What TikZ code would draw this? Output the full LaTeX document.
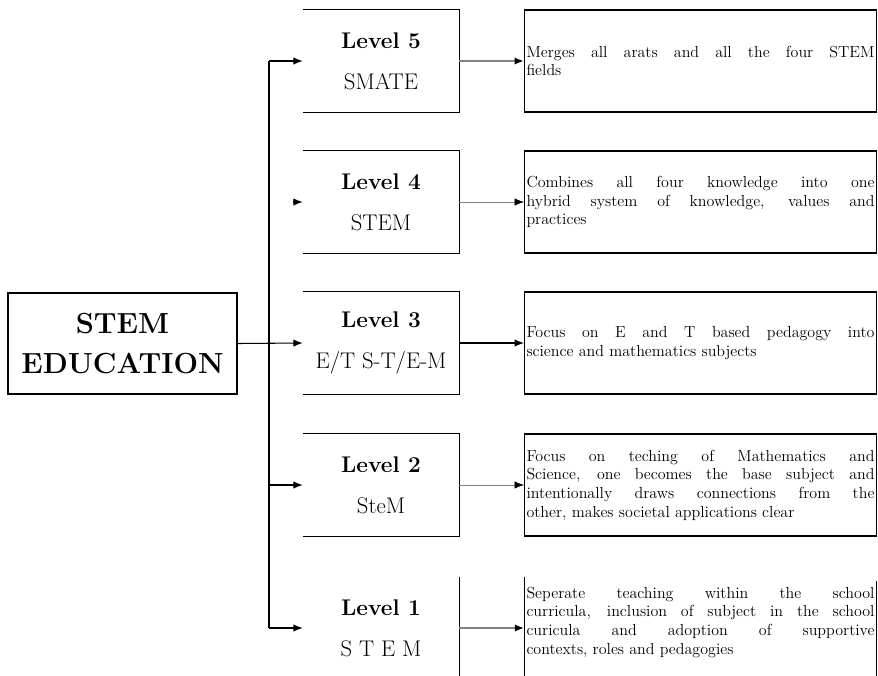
\documentclass[tikz,border=0pt]{standalone}
\usetikzlibrary{arrows.meta}
\begin{document}
\begin{tikzpicture}[x=0.75pt, y=-0.75pt]
        \useasboundingbox (0,0) rectangle (878,675);
        \clip (0,0) rectangle (878,675);
        % main box
        \node [draw, thick, minimum width=171.75pt, minimum height=75.75pt, inner sep=0pt, align=center,
               font=\bfseries\fontsize{21.8}{30}\selectfont] (edu) at (122.5,343.5) {STEM\\EDUCATION};
        \coordinate (tr) at (269,343);
        \begin{scope}[every node/.style={minimum width=117pt, minimum height=76.5pt, inner sep=0pt, align=center,
                      font=\fontsize{17}{31}\selectfont}]
                \node (l5) at (381,61) {\textbf{Level 5}\\SMATE};
                \node (l4) at (381,202) {\textbf{Level 4}\\STEM};
                \node (l3) at (381,343) {\textbf{Level 3}\\E/T S-T/E-M};
                \node (l2) at (381,485) {\textbf{Level 2}\\SteM};
                \node (l1) at (381,628) {\textbf{Level 1}\\S T E M};
        \end{scope}
        \begin{scope}[every node/.style={text width=261pt, minimum height=76.5pt, inner sep=1.5pt, align=justify,
                      font=\fontsize{12}{14}\selectfont}]
                \node [draw, thick] (d5) at (700.5,61) {Merges all arats and all the four STEM\linebreak fields};
                \node [draw, thick] (d4) at (700.5,202) {Combines all four knowledge into one\linebreak hybrid system of knowledge, values and\linebreak practices};
                \node [draw, thick] (d3) at (700.5,343) {Focus on E and T based pedagogy into\linebreak science and mathematics subjects};
                \node [draw, thick] (d2) at (700.5,485) {Focus on teching of Mathematics and\linebreak Science, one becomes the base subject and\linebreak intentionally draws connections from the\linebreak other, makes societal applications clear};
                \node (d1) at (700.5,622) {Seperate teaching within the school\linebreak curricula, inclusion of subject in the school\linebreak curicula and adoption of supportive\linebreak contexts, roles and pedagogies};
        \end{scope}
        % open sided boxes
        \draw [thick] (l5.north west) -- (l5.north east) -- (l5.south east) -- (l5.south west);
        \draw [thick] (l4.north west) -- (l4.north east) -- (l4.south east) -- (l4.south west);
        \draw [thick] (l3.north west) -- (l3.north east) -- (l3.south east) -- (l3.south west);
        \draw [thick] (l2.north west) -- (l2.north east) -- (l2.south east) -- (l2.south west);
        \draw [thick] (l1.north east) -- ([yshift=-10pt]l1.south east);
        \draw [thick] ([yshift=-4.5pt]d1.north west) -- ([yshift=-10pt]d1.south west)
                      ([yshift=-8pt]d1.north east) -- ([yshift=-10pt]d1.south east);
        \begin{scope}[every path/.style={thick, -{Latex[length=7pt,width=5.5pt,color=black]}}]
                \draw [-] (tr |- l5.west) -- (tr |- l1.west);
                \draw (edu.east) -- (l3.west);
                \draw (tr |- l5.west) -- (l5.west);
                \draw ([xshift=-7pt]l4.west) -- (l4.west);
                \draw (tr |- l2.west) -- (l2.west);
                \draw (tr |- l1.west) -- (l1.west);
                \draw [draw=gray, line width=1.8pt] (l5.east) -- (d5.west);
                \draw [draw=gray, thin] (l4.east) -- (d4.west);
                \draw (l3.east) -- (d3.west);
                \draw [draw=gray, thin] (l2.east) -- (d2.west);
                \draw [draw=gray, line width=1.8pt] (l1.east) -- (l1.east -| d1.west);
        \end{scope}
\end{tikzpicture}
\end{document}
